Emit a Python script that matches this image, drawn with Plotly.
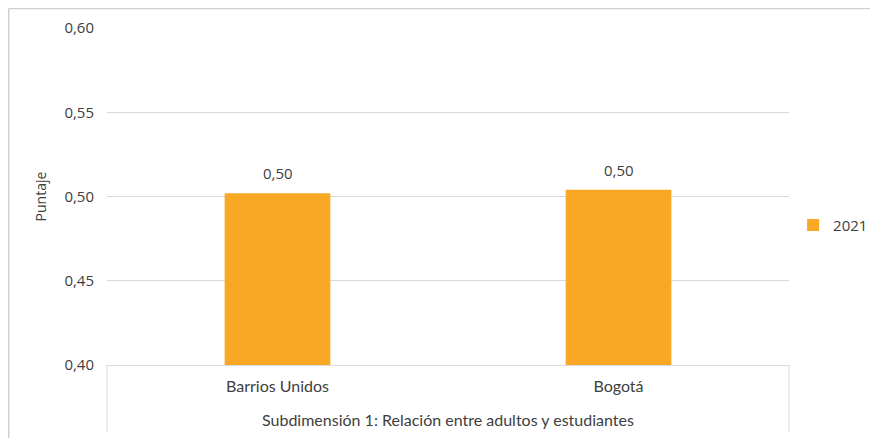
import plotly.graph_objects as go

group_label = "Subdimensión 1: Relación entre adultos y estudiantes"
categories = ["Barrios Unidos", "Bogotá"]
values_2021 = [0.502, 0.504]
series_name = "2021"
y_ticks = [0.40, 0.45, 0.50, 0.55, 0.60]

bar_color = "#F9A825"
text_color = "#404040"
grid_color = "#D9D9D9"
frame_color = "#D0D0D0"
main_font = "Open Sans, Segoe UI, sans-serif"
cat_font = "Lato, Carlito, Calibri, sans-serif"

fig = go.Figure()
fig.add_trace(go.Bar(
    x=categories,
    y=values_2021,
    name=series_name,
    marker=dict(color=bar_color, line=dict(width=0)),
    width=0.31,
))

# data labels placed above each bar through the data scales
value_labels = [
    dict(x=c, y=v, xref="x", yref="y", text=f"{v:.2f}".replace(".", ","),
         showarrow=False, yanchor="bottom", xanchor="center", yshift=8,
         font=dict(family=main_font, size=15, color=text_color))
    for c, v in zip(categories, values_2021)
]

fig.update_layout(
    width=870, height=430,
    margin=dict(l=99, r=89, t=20, b=73, autoexpand=False),
    paper_bgcolor="white",
    plot_bgcolor="white",
    separators=",.",
    showlegend=True,
    legend=dict(x=1.006, y=0.415, xanchor="left", yanchor="middle",
                font=dict(family=main_font, size=15, color=text_color),
                itemwidth=30),
    yaxis=dict(
        range=[0.40, 0.60], tickvals=y_ticks, tickformat=".2f",
        showgrid=True, gridcolor=grid_color, gridwidth=1,
        zeroline=False, showline=False, ticks="",
        tickfont=dict(family=main_font, size=15, color=text_color),
        ticklabelstandoff=12,
        title=dict(text="Puntaje", standoff=14,
                   font=dict(family=main_font, size=14, color=text_color)),
    ),
    xaxis=dict(
        showline=True, linecolor=grid_color, linewidth=1,
        ticks="", showgrid=False,
        ticklabelstandoff=7,
        tickfont=dict(family=cat_font, size=16, color=text_color),
    ),
    annotations=value_labels + [
        dict(text=group_label, xref="paper", yref="paper", x=0.5, y=-0.163,
             xanchor="center", yanchor="middle", showarrow=False,
             font=dict(family=cat_font, size=16, color=text_color)),
    ],
    shapes=[
        # category box sides
        dict(type="line", xref="paper", yref="paper", x0=0, x1=0, y0=-0.2, y1=0,
             line=dict(color=grid_color, width=1)),
        dict(type="line", xref="paper", yref="paper", x0=1, x1=1, y0=-0.2, y1=0,
             line=dict(color=grid_color, width=1)),
        # chart frame (left and top)
        dict(type="line", xref="paper", yref="paper", x0=-0.1441, x1=-0.1441, y0=-0.22, y1=1.0575,
             line=dict(color=frame_color, width=1.5)),
        dict(type="line", xref="paper", yref="paper", x0=-0.1441, x1=1.2, y0=1.0575, y1=1.0575,
             line=dict(color=frame_color, width=1.5)),
    ],
)

fig.write_html("out.html")
